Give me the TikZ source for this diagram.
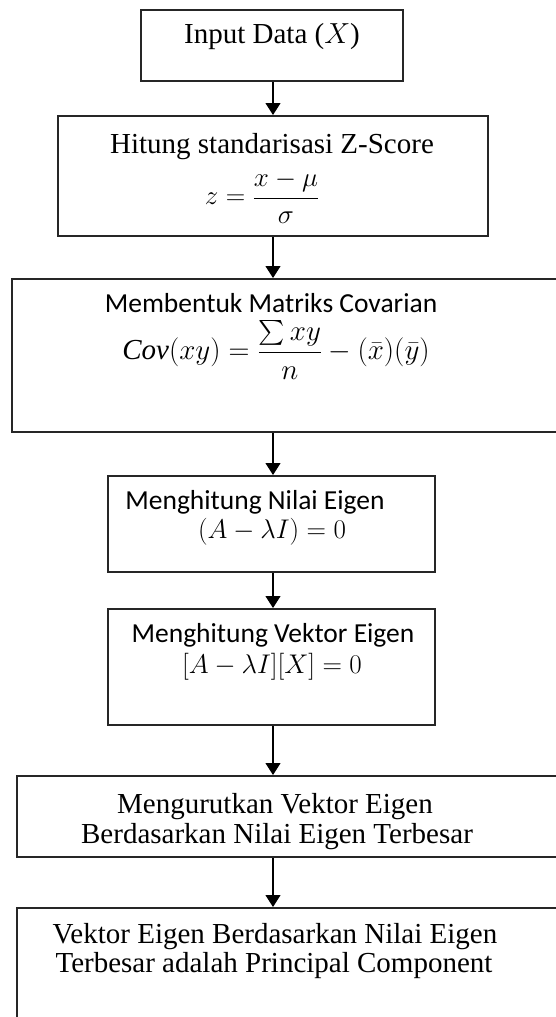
\documentclass[tikz,border=0pt]{standalone}
\usepackage{fix-cm}
\usepackage{amsmath}
\usepackage{fontspec}
\setmainfont{Liberation Serif}
\newfontfamily\calibrifont{Carlito}
\usetikzlibrary{arrows.meta}
\tikzset{
  box/.style={draw=black!85, line width=2pt, rectangle, inner sep=0pt},
  arr/.style={draw=black, line width=1.2pt, -{Triangle[width=15pt,length=12pt]}},
  serif/.style={inner sep=0pt, anchor=base, font=\fontsize{29}{33}\selectfont},
  calib/.style={inner sep=0pt, anchor=base, font=\calibrifont\fontsize{27.5}{32}\selectfont},
  mathtxt/.style={inner sep=0pt, anchor=center, font=\fontsize{27}{32}\selectfont},
}
\begin{document}
\begin{tikzpicture}[x=1pt,y=-1pt]
\useasboundingbox (0,0) rectangle (556,1017);
\fill[white] (0,0) rectangle (556,1017);
\clip (0,0) rectangle (556,1017);
\coordinate (ax) at (273,0);
% boxes
\node[box, minimum width=262pt, minimum height=71pt] (b1) at (272,45.5) {};
\node[box, minimum width=430pt, minimum height=120pt] (b2) at (273,176) {};
\node[box, minimum width=563pt, minimum height=153pt] (b3) at (293.5,355.5) {};
\node[box, minimum width=327pt, minimum height=96pt] (b4) at (271.5,524) {};
\node[box, minimum width=327pt, minimum height=116pt] (b5) at (271.5,667) {};
\node[box, minimum width=558pt, minimum height=81pt] (b6) at (296,816.5) {};
\node[box, minimum width=558pt, minimum height=132pt] (b7) at (296,974) {};
% texts
\node[serif] (t1) at (272,43) {Input Data ($X$)};
\node[serif] (t2) at (272,153) {Hitung standarisasi Z-Score};
\node[mathtxt] (m2) at (262,197) {$\displaystyle z=\frac{x-\mu}{\sigma}$};
\node[calib] (t3) at (271,312) {Membentuk Matriks Covarian};
\node[mathtxt, font=\fontsize{29}{34}\selectfont] (m3) at (276,350) {$\displaystyle \mathit{Cov}(xy)=\frac{\sum xy}{n}-(\bar{x})(\bar{y})$};
\node[calib] (t4) at (255,509) {Menghitung Nilai Eigen};
\node[mathtxt] (m4) at (272,532) {$(A-\lambda I)=0$};
\node[calib] (t5) at (273,642) {Menghitung Vektor Eigen};
\node[mathtxt] (m5) at (272,667) {$[A-\lambda I][X]=0$};
\node[serif] (t6a) at (275,813) {Mengurutkan Vektor Eigen};
\node[serif] (t6b) at (277,843) {Berdasarkan Nilai Eigen Terbesar};
\node[serif] (t7a) at (275,943) {Vektor Eigen Berdasarkan Nilai Eigen};
\node[serif] (t7b) at (274,972) {Terbesar adalah Principal Component};
% arrows
\draw[arr] (b1.south -| ax) -- (b2.north -| ax);
\draw[arr] (b2.south -| ax) -- (b3.north -| ax);
\draw[arr] (b3.south -| ax) -- (b4.north -| ax);
\draw[arr] (b4.south -| ax) -- (b5.north -| ax);
\draw[arr] (b5.south -| ax) -- (b6.north -| ax);
\draw[arr] (b6.south -| ax) -- (b7.north -| ax);
\end{tikzpicture}
\end{document}
